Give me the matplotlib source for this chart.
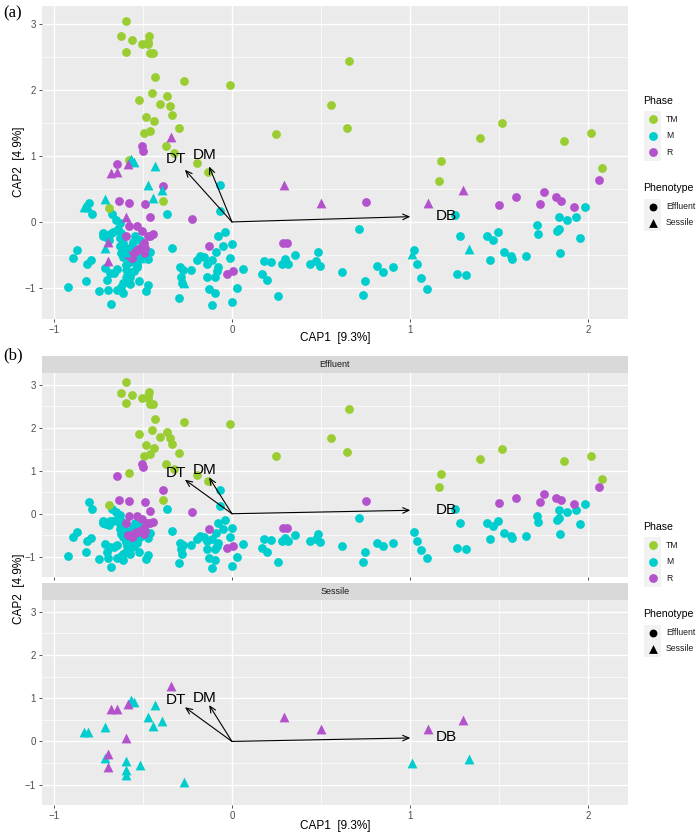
import numpy as np
import matplotlib.pyplot as plt
from matplotlib.patches import Rectangle

plt.rcParams['font.family'] = ['Liberation Sans', 'DejaVu Sans']

W, H = 696, 832

# ---- effluent samples (circles) ----
tm_x = [-0.593, -0.625, -0.559, -0.467, -0.474, -0.505, -0.471, -0.597, -0.458, -0.443,
        -0.431, -0.270, -0.009, -0.450, -0.522, -0.364, -0.405, -0.347, -0.334, -0.480,
        -0.439, -0.298, -0.460, -0.494, -0.370, -0.328, -0.581, -0.195, -0.137, -0.387,
        -0.690, 0.660, 0.557, 0.645, 0.248, 1.176, 1.165, 1.518, 1.396, 1.867, 2.019, 2.080]
tm_y = [3.05, 2.81, 2.76, 2.82, 2.73, 2.70, 2.69, 2.57, 2.56, 2.56,
        2.19, 2.13, 2.08, 1.95, 1.85, 1.90, 1.78, 1.76, 1.62, 1.59,
        1.53, 1.42, 1.38, 1.34, 1.15, 1.04, 0.94, 0.90, 0.76, 0.32,
        0.21, 2.44, 1.77, 1.43, 1.33, 0.92, 0.62, 1.50, 1.27, 1.23, 1.35, 0.81]

m_x = [-0.803, -0.786, -0.674, -0.649, -0.630, -0.724, -0.705, -0.687, -0.668, -0.640,
       -0.692, -0.628, -0.611, -0.871, -0.893, -0.790, -0.814, -0.711, -0.702, -0.687,
       -0.662, -0.645, -0.822, -0.921, -0.747, -0.696, -0.645, -0.611, -0.677, -0.621,
       -0.593, -0.574, -0.551, -0.589, -0.597, -0.574, -0.536, -0.518, -0.471, -0.458,
       -0.474, -0.480, -0.523, -0.570, -0.611, -0.564, -0.593, -0.574, -0.621, -0.518,
       -0.546, -0.555, -0.362, -0.336, -0.293, -0.274, -0.231, -0.287, -0.280, -0.297,
       -0.724, -0.621, -0.630, -0.611, -0.536,
       -0.069, -0.068, -0.041, -0.081, -0.049, -0.011, -0.195, -0.180, -0.158, -0.113,
       -0.142, -0.090, -0.077, -0.086, 0.060, -0.142, -0.096, -0.129, -0.096, 0.026,
       -0.002, -0.113, -0.002,
       0.182, 0.219, 0.169, 0.199, 0.261, 0.280, 0.298, 0.317, 0.355, 0.439,
       0.471, 0.492, 0.486, 0.619, 0.713, 0.750, 0.735, 0.814, 0.850, 0.904,
       1.022, 1.039, 1.064, 1.096, 1.255, 1.281, 1.266, 1.315,
       1.433, 1.467, 1.493, 1.452, 1.527, 1.566, 1.574, 1.654, 1.716, 1.720,
       1.827, 1.840, 1.835, 1.883, 1.932, 1.983, 1.953, 1.844]
m_y = [0.28, 0.12, 0.12, 0.03, -0.02, -0.21, -0.23, -0.18, -0.16, -0.11,
       -0.27, -0.25, -0.32, -0.43, -0.54, -0.57, -0.63, -0.70, -0.88, -0.77,
       -0.77, -0.72, -0.89, -0.98, -1.05, -1.03, -1.03, -1.07, -1.24, -0.98,
       -0.90, -0.83, -0.75, -0.75, -0.65, -0.60, -0.63, -0.55, -0.56, -0.45,
       -0.96, -1.05, -0.90, -0.94, -0.93, -0.36, -0.40, -0.47, -0.47, -0.27,
       -0.22, -0.30, 0.12, -0.40, -0.68, -0.73, -0.73, -0.83, -0.93, -1.15,
       -0.17, -0.17, -0.36, -0.53, -0.68,
       0.56, 0.17, -0.15, -0.22, -0.36, -0.54, -0.58, -0.52, -0.53, -0.58,
       -0.64, -0.45, -0.69, -0.74, -0.71, -0.83, -0.83, -1.02, -1.07, -1.00,
       -1.22, -1.26, -0.33,
       -0.59, -0.60, -0.79, -0.88, -1.12, -0.63, -0.56, -0.64, -0.50, -0.63,
       -0.59, -0.66, -0.46, -0.76, -0.11, -0.90, -1.11, -0.67, -0.76, -0.69,
       -0.42, -0.64, -0.85, -1.02, 0.10, -0.22, -0.79, -0.81,
       -0.21, -0.28, -0.16, -0.58, -0.45, -0.51, -0.56, -0.52, -0.05, -0.19,
       -0.14, -0.10, 0.08, 0.03, 0.08, 0.23, -0.25, -0.47]

r_x = [-0.503, -0.499, -0.645, -0.388, -0.632, -0.576, -0.491, -0.463, -0.223, -0.593,
       -0.536, -0.578, -0.505, -0.445, -0.469, -0.461, -0.494, -0.585, -0.559, -0.536,
       -0.518, -0.486, -0.494, -0.564, -0.546, -0.131, -0.030, 0.004, 0.289, 0.308,
       0.754, 1.499, 1.598, 1.754, 1.731, 1.820, 1.851, 1.923, 2.062]
r_y = [1.15, 1.08, 0.87, 0.54, 0.32, 0.29, 0.27, 0.07, 0.04, -0.22,
       -0.06, -0.06, -0.13, -0.19, -0.22, -0.21, -0.32, -0.50, -0.55, -0.42,
       -0.40, -0.40, -0.47, -0.54, -0.45, -0.36, -0.79, -0.75, -0.32, -0.32,
       0.30, 0.26, 0.37, 0.45, 0.27, 0.37, 0.31, 0.23, 0.63]

# ---- sessile samples (triangles) ----
ses_m_x = [-0.566, -0.549, -0.434, -0.472, -0.395, -0.445, -0.714, -0.829, -0.810, -0.714,
           -0.594, -0.515, -0.594, -0.594, -0.271, 1.010, 1.330]
ses_m_y = [0.96, 0.91, 0.84, 0.56, 0.48, 0.36, 0.34, 0.22, 0.22, -0.39,
           -0.46, -0.55, -0.66, -0.78, -0.93, -0.49, -0.41]
ses_r_x = [-0.342, -0.586, -0.677, -0.648, -0.596, -0.695, -0.699, 0.293, 0.498, 1.100, 1.300]
ses_r_y = [1.28, 0.87, 0.74, 0.76, 0.08, -0.30, -0.59, 0.56, 0.28, 0.28, 0.49]

# ---- fitted environmental vectors ----
vec_names = ['DT', 'DM', 'DB']
vec_x = [-0.264, -0.128, 1.002]
vec_y = [0.79, 0.84, 0.08]

phases = ['TM', 'M', 'R']
colors = {'TM': '#9ACD32', 'M': '#00CDCD', 'R': '#B452CD'}
effluent = {'TM': (tm_x, tm_y), 'M': (m_x, m_y), 'R': (r_x, r_y)}
sessile = {'M': (ses_m_x, ses_m_y), 'R': (ses_r_x, ses_r_y)}

XLIM = (-1.067, 2.225)
YLIM = (-1.47, 3.27)
S_CIRC = 40
S_TRI = 50


def box(left, top, right, bottom):
    return [left / W, 1 - bottom / H, (right - left) / W, (bottom - top) / H]


def style_panel(ax, xlabels=True):
    ax.set_facecolor('#EBEBEB')
    ax.set_xlim(XLIM)
    ax.set_ylim(YLIM)
    ax.set_xticks([-1, 0, 1, 2])
    ax.set_yticks([-1, 0, 1, 2, 3])
    ax.set_xticks([-0.5, 0.5, 1.5], minor=True)
    ax.set_yticks([-0.5, 0.5, 1.5, 2.5], minor=True)
    ax.grid(which='major', color='white', lw=1.0)
    ax.grid(which='minor', color='white', lw=0.5)
    ax.set_axisbelow(True)
    for s in ax.spines.values():
        s.set_visible(False)
    ax.tick_params(which='major', length=2.5, width=0.6, color='#333333',
                   labelsize=7, labelcolor='#4D4D4D', pad=2)
    ax.tick_params(which='minor', length=0)
    if not xlabels:
        ax.tick_params(axis='x', labelbottom=False)


def draw_vectors(ax):
    for name, vx, vy in zip(vec_names, vec_x, vec_y):
        ax.annotate('', xy=(vx, vy), xytext=(0, 0),
                    arrowprops=dict(arrowstyle='->,head_length=0.45,head_width=0.2',
                                    color='black', lw=0.8, shrinkA=0, shrinkB=0))
        ax.text(1.2 * vx, 1.2 * vy, name, ha='center', va='center', fontsize=11)


def draw_effluent(ax):
    for ph in ['M', 'TM', 'R']:
        x, y = effluent[ph]
        ax.scatter(x, y, s=S_CIRC, c=colors[ph], marker='o', linewidths=0, zorder=3)


def draw_sessile(ax):
    for ph in ['M', 'R']:
        x, y = sessile[ph]
        ax.scatter(x, y, s=S_TRI, c=colors[ph], marker='^', linewidths=0, zorder=3)


def draw_legend(lax, top):
    # top = y pixel of "Phase" title
    lax.text(643, top, 'Phase', fontsize=7.6, va='center', ha='left')
    ys = [top + 18 + 16.7 * i for i in range(3)]
    lax.add_patch(Rectangle((644, ys[0] - 8.5), 17, 16.7 * 3 + 0.5, color='#F2F2F2', lw=0))
    for ph, yy in zip(phases, ys):
        lax.scatter([652.5], [yy], s=S_CIRC, c=colors[ph], linewidths=0)
        lax.text(666, yy, ph, fontsize=6.2, va='center', ha='left', color='#1A1A1A')
    t2 = top + 87
    lax.text(643, t2, 'Phenotype', fontsize=7.6, va='center', ha='left')
    ys2 = [t2 + 18.5, t2 + 34.5]
    lax.add_patch(Rectangle((644, ys2[0] - 8), 17, 32, color='#F2F2F2', lw=0))
    lax.scatter([652.5], [ys2[0]], s=S_CIRC * 0.8, c='black', marker='o', linewidths=0)
    lax.scatter([652.5], [ys2[1]], s=S_TRI * 0.8, c='black', marker='^', linewidths=0)
    lax.text(666, ys2[0], 'Effluent', fontsize=6.2, va='center', ha='left', color='#1A1A1A')
    lax.text(666, ys2[1], 'Sessile', fontsize=6.2, va='center', ha='left', color='#1A1A1A')


def strip(left, top, right, bottom, label):
    sax = fig.add_axes(box(left, top, right, bottom))
    sax.set_facecolor('#D9D9D9')
    sax.set_xticks([])
    sax.set_yticks([])
    for s in sax.spines.values():
        s.set_visible(False)
    sax.text(0.5, 0.5, label, transform=sax.transAxes, ha='center', va='center',
             fontsize=6.5, color='#1A1A1A')


fig = plt.figure(figsize=(W / 100, H / 100), dpi=100)

# (a) combined
ax_a = fig.add_axes(box(42, 6, 628, 319))
style_panel(ax_a)
draw_effluent(ax_a)
draw_sessile(ax_a)
draw_vectors(ax_a)

# (b) faceted
strip(42, 356, 628, 373, 'Effluent')
ax_e = fig.add_axes(box(42, 373, 628, 577))
style_panel(ax_e, xlabels=False)
draw_effluent(ax_e)
draw_vectors(ax_e)

strip(42, 583, 628, 600, 'Sessile')
ax_s = fig.add_axes(box(42, 600, 628, 805))
style_panel(ax_s)
draw_sessile(ax_s)
draw_vectors(ax_s)

# overlay for titles and legends
lax = fig.add_axes([0, 0, 1, 1], zorder=-1)
lax.set_xlim(0, W)
lax.set_ylim(H, 0)
lax.axis('off')

lax.text(3, 13, '(a)', fontsize=12, family='Liberation Serif', va='center', ha='left')
lax.text(3, 355, '(b)', fontsize=12, family='Liberation Serif', va='center', ha='left')

lax.text(335, 338, 'CAP1  [9.3%]', fontsize=8.5, ha='center', va='center')
lax.text(335, 826, 'CAP1  [9.3%]', fontsize=8.5, ha='center', va='center')
lax.text(19, 162, 'CAP2  [4.9%]', fontsize=8.5, ha='center', va='center', rotation=90)
lax.text(19, 589, 'CAP2  [4.9%]', fontsize=8.5, ha='center', va='center', rotation=90)

draw_legend(lax, 101)
draw_legend(lax, 527)

fig.savefig('out.png', dpi=100)
